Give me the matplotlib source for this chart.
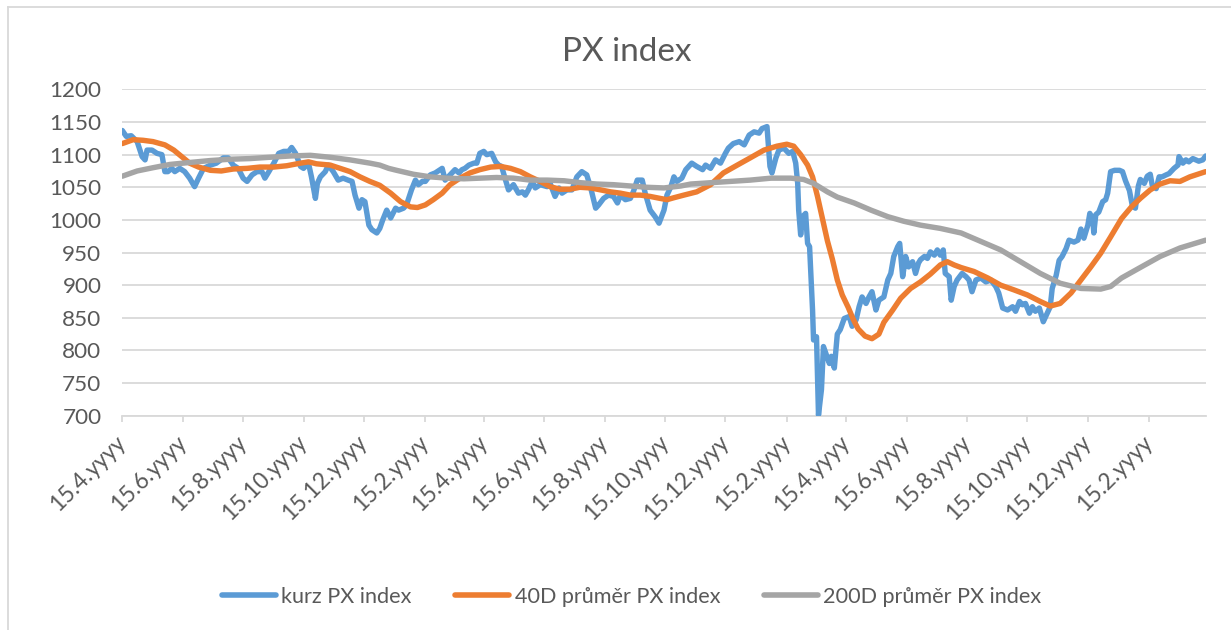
import matplotlib
matplotlib.use("Agg")
import matplotlib.pyplot as plt
import matplotlib.transforms as mtransforms
from matplotlib.lines import Line2D
import pandas as pd

plt.rcParams['font.family'] = ['Lato', 'DejaVu Sans']

# ---------------- data ----------------
start_date = "2018-04-15"

kurz_days = [0, 4, 9, 15, 20, 23, 25, 30, 35, 40, 43, 46, 50, 53, 58, 63, 68, 73, 77, 82,
             89, 95, 102, 107, 112, 117, 122, 126, 131, 136, 141, 144, 148, 153, 158, 163, 168, 171, 175, 180,
             183, 188, 191, 195, 197, 200, 205, 208, 213, 218, 223, 228, 232, 235, 239, 242, 245, 249, 252, 257,
             260, 263, 267, 271, 276, 279, 284, 287, 292, 296, 299, 303, 306, 311, 316, 323, 326, 331, 336, 340,
             343, 346, 350, 355, 358, 361, 365, 368, 373, 377, 380, 383, 387, 390, 395, 400, 404, 407, 410, 414,
             417, 422, 429, 432, 437, 441, 444, 449, 454, 459, 464, 469, 473, 478, 481, 486, 491, 496, 500, 503,
             508, 513, 516, 520, 525, 528, 533, 538, 542, 547, 550, 554, 557, 560, 565, 569, 575, 580, 586, 589,
             594, 599, 604, 609, 612, 617, 623, 628, 633, 638, 643, 646, 651, 654, 656, 660, 663, 668, 673, 677,
             680, 682, 683, 685, 687, 690, 692, 694, 697, 698, 701, 703, 706, 708, 711, 714, 716, 719, 722, 725,
             729, 734, 737, 741, 744, 747, 751, 754, 757, 761, 764, 769, 773, 776, 779, 783, 785, 788, 791, 794,
             798, 801, 804, 806, 810, 813, 816, 820, 823, 826, 829, 831, 835, 837, 840, 843, 848, 852, 855, 858,
             862, 867, 872, 877, 882, 885, 889, 894, 899, 902, 906, 909, 912, 916, 919, 922, 926, 930, 934, 937,
             939, 943, 946, 949, 953, 956, 961, 965, 968, 971, 975, 977, 980, 981, 983, 986, 990, 993, 995, 998,
             1002, 1007, 1010, 1013, 1017, 1020, 1023, 1026, 1028, 1032, 1035, 1038, 1040, 1044, 1047, 1050, 1054, 1057, 1062, 1066,
             1067, 1071, 1074, 1077, 1081, 1084, 1087, 1091, 1094]
kurz_values = [1137, 1128, 1129, 1120, 1097, 1092, 1107, 1107, 1102, 1100, 1074, 1074, 1079, 1074, 1079, 1074, 1064, 1051, 1064, 1079,
               1084, 1087, 1095, 1095, 1084, 1079, 1064, 1059, 1069, 1074, 1074, 1064, 1074, 1087, 1102, 1105, 1105, 1111, 1102, 1082,
               1079, 1087, 1066, 1033, 1056, 1066, 1074, 1084, 1074, 1061, 1064, 1061, 1059, 1038, 1018, 1031, 1028, 992, 985, 980,
               987, 1000, 1015, 1003, 1018, 1015, 1018, 1023, 1046, 1061, 1054, 1059, 1059, 1069, 1072, 1079, 1061, 1069, 1077, 1072,
               1077, 1079, 1084, 1087, 1087, 1102, 1105, 1100, 1102, 1089, 1084, 1082, 1061, 1046, 1054, 1041, 1043, 1038, 1046, 1059,
               1049, 1054, 1051, 1056, 1036, 1049, 1041, 1046, 1046, 1066, 1074, 1069, 1049, 1018, 1023, 1033, 1038, 1036, 1026, 1038,
               1031, 1033, 1043, 1061, 1061, 1041, 1015, 1005, 995, 1015, 1038, 1051, 1066, 1059, 1064, 1077, 1087, 1082, 1077, 1084,
               1079, 1092, 1087, 1102, 1110, 1117, 1120, 1115, 1130, 1135, 1133, 1140, 1143, 1082, 1072, 1095, 1107, 1110, 1102, 1105,
               1087, 1056, 1015, 977, 1005, 1010, 964, 959, 862, 816, 821, 701, 740, 806, 793, 780, 791, 773, 825, 832,
               849, 852, 837, 847, 867, 882, 872, 882, 890, 862, 877, 882, 908, 918, 944, 959, 964, 913, 944, 928,
               936, 918, 934, 939, 944, 941, 951, 946, 954, 946, 954, 918, 913, 877, 898, 908, 918, 913, 908, 890,
               908, 911, 905, 908, 898, 888, 865, 862, 867, 860, 875, 870, 872, 857, 867, 860, 865, 844, 857, 867,
               895, 915, 938, 944, 956, 969, 966, 969, 986, 972, 992, 1010, 1000, 980, 1008, 1012, 1028, 1031, 1041, 1074,
               1076, 1076, 1074, 1060, 1045, 1021, 1018, 1052, 1062, 1056, 1067, 1070, 1053, 1048, 1066, 1066, 1069, 1071, 1079, 1084,
               1097, 1087, 1092, 1089, 1094, 1092, 1090, 1092, 1098]

avg40_days = [0, 11, 21, 31, 43, 52, 60, 68, 77, 89, 100, 112, 126, 139, 153, 166, 180, 188, 196, 210,
              220, 230, 240, 250, 260, 271, 281, 291, 298, 306, 314, 323, 331, 341, 351, 361, 372, 382, 392, 402,
              412, 422, 432, 442, 452, 462, 473, 483, 493, 503, 513, 523, 533, 543, 550, 557, 567, 580, 594, 607,
              621, 634, 648, 661, 671, 678, 685, 692, 697, 702, 707, 712, 717, 722, 727, 733, 738, 743, 750, 757,
              764, 769, 778, 786, 796, 806, 816, 826, 833, 840, 847, 860, 874, 887, 900, 914, 927, 937, 947, 958,
              968, 978, 988, 998, 1009, 1019, 1028, 1038, 1048, 1058, 1068, 1078, 1088, 1094]
avg40_values = [1117, 1123, 1122, 1120, 1115, 1107, 1097, 1087, 1081, 1076, 1075, 1078, 1079, 1081, 1081, 1083, 1087, 1089, 1086, 1084,
                1079, 1074, 1066, 1059, 1053, 1041, 1028, 1020, 1019, 1023, 1031, 1041, 1054, 1064, 1072, 1077, 1081, 1082, 1079, 1074,
                1066, 1059, 1051, 1047, 1047, 1050, 1049, 1046, 1043, 1041, 1038, 1038, 1036, 1033, 1031, 1034, 1038, 1043, 1054, 1072,
                1084, 1095, 1107, 1113, 1116, 1113, 1100, 1084, 1066, 1036, 1002, 968, 940, 908, 885, 866, 848, 833, 822, 818,
                825, 843, 862, 880, 895, 905, 917, 931, 936, 931, 927, 921, 911, 900, 893, 885, 875, 868, 872, 888,
                908, 928, 949, 974, 1002, 1020, 1033, 1046, 1055, 1060, 1059, 1066, 1071, 1074]

avg200_days = [0, 15, 31, 48, 68, 89, 109, 129, 149, 170, 190, 210, 230, 250, 260, 269, 277, 294, 311, 328,
               345, 361, 378, 395, 412, 429, 446, 463, 479, 496, 513, 530, 547, 564, 574, 594, 614, 634, 655, 675,
               688, 698, 712, 722, 739, 756, 773, 789, 806, 826, 847, 867, 887, 907, 927, 947, 968, 988, 998, 1009,
               1029, 1048, 1068, 1094]
avg200_values = [1067, 1075, 1080, 1085, 1088, 1091, 1093, 1094, 1096, 1098, 1099, 1096, 1092, 1087, 1084, 1079, 1076, 1070, 1066, 1064,
                 1063, 1064, 1065, 1064, 1061, 1061, 1060, 1057, 1055, 1054, 1052, 1050, 1049, 1052, 1055, 1057, 1059, 1061, 1064, 1064,
                 1062, 1056, 1043, 1035, 1026, 1015, 1005, 998, 992, 987, 980, 967, 954, 936, 918, 903, 895, 894, 898, 911,
                 928, 944, 957, 969]

series_names = ["kurz PX index", "40D průměr PX index", "200D průměr PX index"]
tick_labels = ["15.4.yyyy", "15.6.yyyy", "15.8.yyyy", "15.10.yyyy", "15.12.yyyy", "15.2.yyyy",
               "15.4.yyyy", "15.6.yyyy", "15.8.yyyy", "15.10.yyyy", "15.12.yyyy", "15.2.yyyy",
               "15.4.yyyy", "15.6.yyyy", "15.8.yyyy", "15.10.yyyy", "15.12.yyyy", "15.2.yyyy"]
y_ticks = [700, 750, 800, 850, 900, 950, 1000, 1050, 1100, 1150, 1200]
chart_title = "PX index"

# ---------------- drawing ----------------
W, H = 1231, 630
t0 = pd.Timestamp(start_date)
def to_dates(days):
    return [t0 + pd.Timedelta(days=int(d)) for d in days]

colors = ["#5B9BD5", "#ED7D31", "#A5A5A5"]
text_color = "#595959"
grid_color = "#D9D9D9"

fig = plt.figure(figsize=(W / 100, H / 100), dpi=100)
fig.patch.set_facecolor("white")
left, right, top, bottom = 122.3, 1205.7, 89.4, 415.7
ax = fig.add_axes([left / W, 1 - bottom / H, (right - left) / W, (bottom - top) / H])

series = [(kurz_days, kurz_values), (avg40_days, avg40_values), (avg200_days, avg200_values)]
for (d, v), c, name in zip(series, colors, series_names):
    ax.plot(to_dates(d), v, color=c, lw=3.9, label=name,
            solid_joinstyle="round", solid_capstyle="round", zorder=3)

ax.set_ylim(700, 1200)
ax.set_xlim(to_dates([kurz_days[0]])[0], to_dates([kurz_days[-1]])[0])
ax.set_yticks(y_ticks)
ax.set_yticklabels([str(v) for v in y_ticks])

tick_dates = [t0 + pd.DateOffset(months=2 * i) for i in range(len(tick_labels))]
ax.set_xticks(tick_dates)
ax.set_xticklabels(tick_labels, rotation=45, ha="right", va="center", rotation_mode="anchor")
shift = mtransforms.ScaledTranslation(5 / 100, -5 / 100, fig.dpi_scale_trans)
for lab in ax.get_xticklabels():
    lab.set_transform(lab.get_transform() + shift)

ax.grid(axis="y", color=grid_color, lw=1.3)
ax.set_axisbelow(True)
for s in ["top", "right", "left"]:
    ax.spines[s].set_visible(False)
ax.spines["bottom"].set_color(grid_color)
ax.spines["bottom"].set_linewidth(1.3)
ax.tick_params(axis="y", length=0, pad=15, labelsize=16.2, labelcolor=text_color)
ax.tick_params(axis="x", length=4.5, width=1.3, color=grid_color, pad=12,
               labelsize=16.3, labelcolor=text_color)

fig.text(626.5 / W, 1 - 52 / H, chart_title, ha="center", va="center",
         fontsize=24, color=text_color)

leg = fig.legend(loc="center", bbox_to_anchor=(631.5 / W, 1 - 597 / H), ncol=3,
                 frameon=False, fontsize=15.6, handlelength=2.5, handletextpad=0.25,
                 columnspacing=2.0, labelcolor=text_color)
for line in leg.get_lines():
    line.set_linewidth(4)
    line.set_solid_capstyle("round")

# chart-area border (left and top visible)
fig.add_artist(Line2D([8 / W, 8 / W], [0, 1 - 7 / H], color=grid_color, lw=1.3))
fig.add_artist(Line2D([8 / W, 1], [1 - 7 / H, 1 - 7 / H], color=grid_color, lw=1.3))

fig.savefig("out.png", dpi=100)
